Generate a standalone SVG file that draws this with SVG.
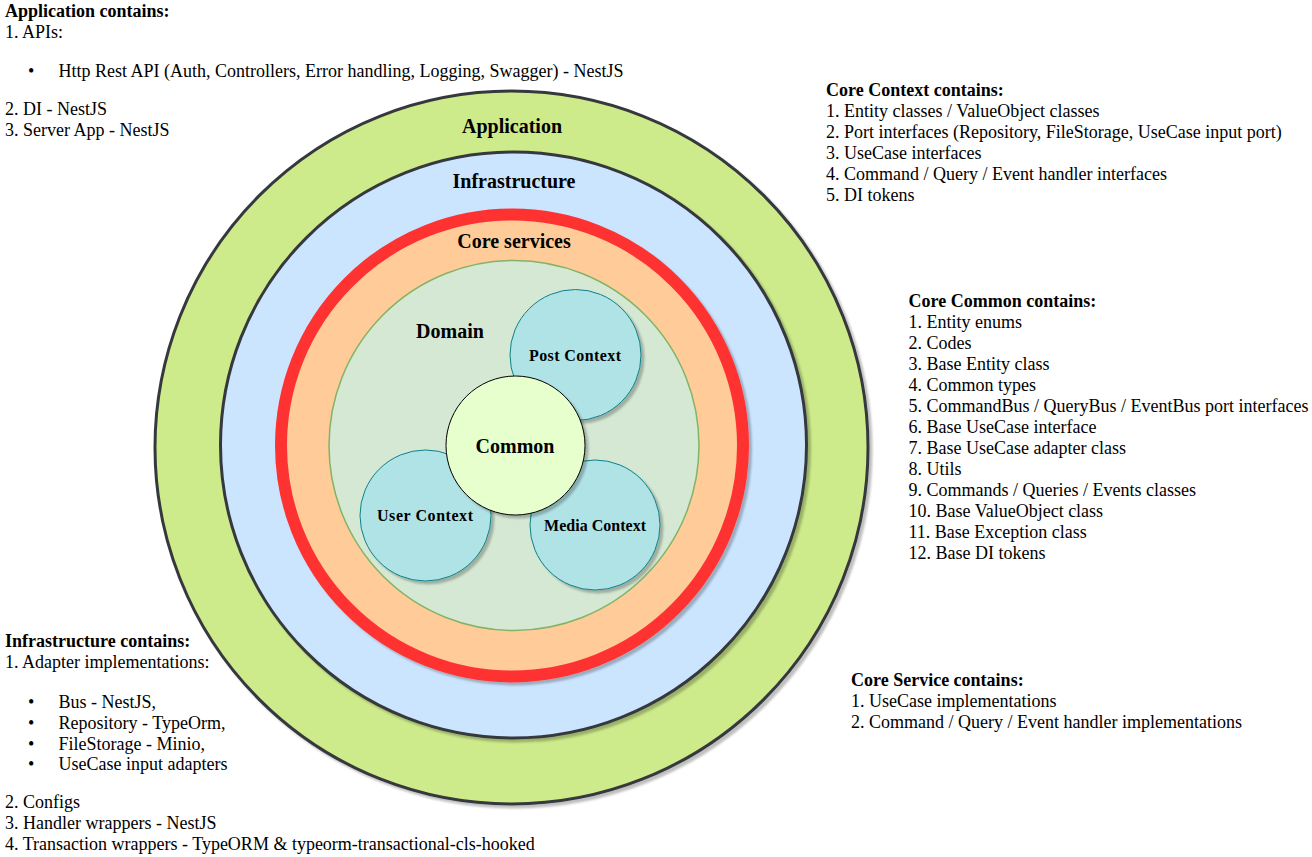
<svg xmlns="http://www.w3.org/2000/svg" width="1312" height="857" viewBox="0 0 1312 857">
<style>
text{font-family:"Liberation Serif","Times New Roman",serif;fill:#000}
.b{font-weight:bold}
.t{font-size:18px}
.lbl{font-size:20px;font-weight:bold;text-anchor:middle}
.sm{font-size:16px;font-weight:bold;text-anchor:middle}
.ring{stroke:#36393d;stroke-width:3}
.ctx{fill:#b0e3e6;stroke:#0e8088;stroke-width:1}
</style>
<defs>
<filter id="sh" x="-10%" y="-10%" width="130%" height="130%">
<feGaussianBlur in="SourceAlpha" stdDeviation="1.2"/>
<feOffset dx="3" dy="3" result="o"/>
<feFlood flood-color="#000" flood-opacity="0.25"/>
<feComposite in2="o" operator="in"/>
<feMerge><feMergeNode/><feMergeNode in="SourceGraphic"/></feMerge>
</filter>
</defs>
<rect width="1312" height="857" fill="#fff"/>
<g id="application">
<circle cx="511.5" cy="447.5" r="356.5" fill="#cdeb8b" class="ring" filter="url(#sh)"/>
<text class="lbl" x="512" y="133">Application</text>
</g>
<g id="infrastructure">
<circle cx="513.5" cy="445" r="293" fill="#cce5ff" class="ring" filter="url(#sh)"/>
<text class="lbl" x="514" y="188">Infrastructure</text>
</g>
<g id="core-services">
<circle cx="512" cy="445.5" r="231" fill="#ffcc99" stroke="#ff3333" stroke-width="12" filter="url(#sh)"/>
<text class="lbl" x="514" y="248">Core services</text>
</g>
<g id="domain">
<circle cx="514" cy="445.5" r="185" fill="#d5e8d4" stroke="#82b366" stroke-width="1.5"/>
<text class="lbl" x="450" y="338">Domain</text>
</g>
<g id="post-context">
<circle cx="575.5" cy="355" r="65.5" class="ctx" filter="url(#sh)"/>
<text class="sm" x="575" y="361" textLength="92" lengthAdjust="spacing">Post Context</text>
</g>
<g id="user-context">
<circle cx="425.5" cy="515.5" r="65.5" class="ctx" filter="url(#sh)"/>
<text class="sm" x="425" y="521" textLength="96" lengthAdjust="spacing">User Context</text>
</g>
<g id="media-context">
<circle cx="595" cy="525" r="65" class="ctx" filter="url(#sh)"/>
<text class="sm" x="595" y="531" textLength="102" lengthAdjust="spacing">Media Context</text>
</g>
<g id="common">
<circle cx="515.5" cy="445.5" r="69.5" fill="#e6ffcc" stroke="#000" stroke-width="1" filter="url(#sh)"/>
<text class="lbl" x="515" y="453">Common</text>
</g>
<g id="connectors"></g>
<g id="application-notes">
<text class="t b" x="5" y="17">Application contains:</text>
<text class="t" x="5" y="38">1. APIs:</text>
<text class="t" x="28" y="77">•</text>
<text class="t" x="58.5" y="77">Http Rest API (Auth, Controllers, Error handling, Logging, Swagger) - NestJS</text>
<text class="t" x="5" y="115">2. DI - NestJS</text>
<text class="t" x="5" y="136">3. Server App - NestJS</text>
</g>
<g id="core-context-notes">
<text class="t b" x="826" y="96">Core Context contains:</text>
<text class="t" x="826" y="117">1. Entity classes / ValueObject classes</text>
<text class="t" x="826" y="138">2. Port interfaces (Repository, FileStorage, UseCase input port)</text>
<text class="t" x="826" y="159">3. UseCase interfaces</text>
<text class="t" x="826" y="180">4. Command / Query / Event handler interfaces</text>
<text class="t" x="826" y="201">5. DI tokens</text>
</g>
<g id="core-common-notes">
<text class="t b" x="908.5" y="306.5">Core Common contains:</text>
<text class="t" x="908.5" y="327.5">1. Entity enums</text>
<text class="t" x="908.5" y="348.5">2. Codes</text>
<text class="t" x="908.5" y="369.5">3. Base Entity class</text>
<text class="t" x="908.5" y="390.5">4. Common types</text>
<text class="t" x="908.5" y="411.5">5. CommandBus / QueryBus / EventBus port interfaces</text>
<text class="t" x="908.5" y="432.5">6. Base UseCase interface</text>
<text class="t" x="908.5" y="453.5">7. Base UseCase adapter class</text>
<text class="t" x="908.5" y="474.5">8. Utils</text>
<text class="t" x="908.5" y="495.5">9. Commands / Queries / Events classes</text>
<text class="t" x="908.5" y="516.5">10. Base ValueObject class</text>
<text class="t" x="908.5" y="537.5">11. Base Exception class</text>
<text class="t" x="908.5" y="558.5">12. Base DI tokens</text>
</g>
<g id="core-service-notes">
<text class="t b" x="851" y="686">Core Service contains:</text>
<text class="t" x="851" y="707">1. UseCase implementations</text>
<text class="t" x="851" y="728">2. Command / Query / Event handler implementations</text>
</g>
<g id="infrastructure-notes">
<text class="t b" x="5" y="647">Infrastructure contains:</text>
<text class="t" x="5" y="668">1. Adapter implementations:</text>
<text class="t" x="28" y="708">•</text>
<text class="t" x="58.5" y="708">Bus - NestJS,</text>
<text class="t" x="28" y="729">•</text>
<text class="t" x="58.5" y="729">Repository - TypeOrm,</text>
<text class="t" x="28" y="749.5">•</text>
<text class="t" x="58.5" y="749.5">FileStorage - Minio,</text>
<text class="t" x="28" y="770">•</text>
<text class="t" x="58.5" y="770">UseCase input adapters</text>
<text class="t" x="5" y="808">2. Configs</text>
<text class="t" x="5" y="829">3. Handler wrappers - NestJS</text>
<text class="t" x="5" y="850">4. Transaction wrappers - TypeORM &amp; typeorm-transactional-cls-hooked</text>
</g>
</svg>
